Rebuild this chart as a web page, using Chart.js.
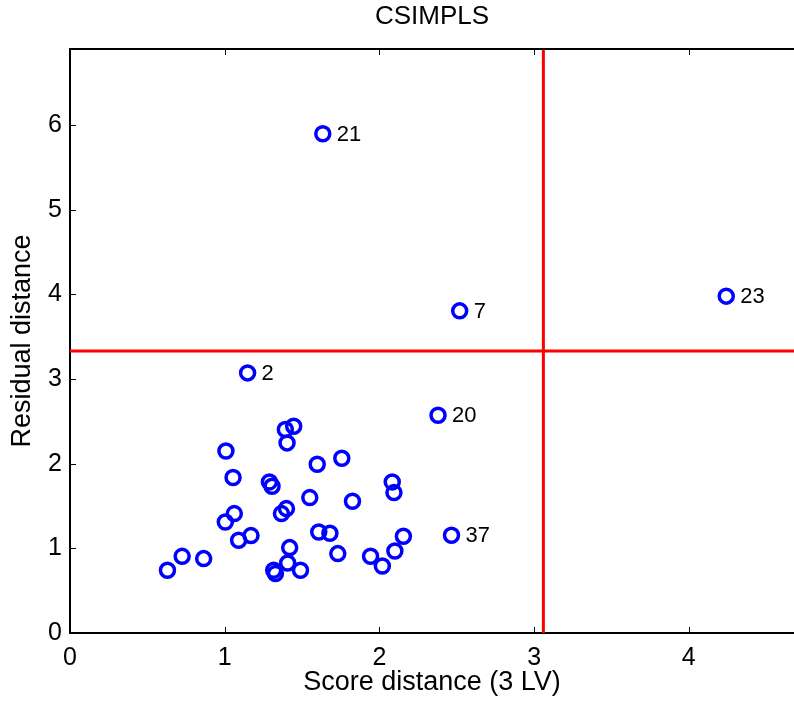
<!DOCTYPE html>
<html>
<head>
<meta charset="utf-8">
<script src="https://cdn.jsdelivr.net/npm/chart.js@4.4.0/dist/chart.umd.min.js"></script>
<style>
  html, body { margin: 0; padding: 0; background: #fff; }
  #wrap { width: 794px; height: 706px; }
</style>
</head>
<body>
<div id="wrap"><canvas id="diagChart"></canvas></div>
<script>
// score distance / residual distance per observation
const scoreDist = [0.63, 0.725, 0.864, 1.004, 1.062, 1.09, 1.17, 1.008, 1.054, 1.289,
    1.306, 1.317, 1.328, 1.367, 1.399, 1.392, 1.446, 1.403, 1.407, 1.42,
    1.49, 1.55, 1.598, 1.608, 1.68, 1.731, 1.757, 1.826, 1.943, 2.019,
    2.1, 2.155, 2.083, 2.094, 2.466, 2.379, 1.148, 2.519, 1.634, 4.242];
const residDist = [0.741, 0.906, 0.879, 1.312, 1.411, 1.096, 1.151, 2.151, 1.837, 1.785,
    1.734, 0.741, 0.702, 1.411, 1.47, 2.404, 2.443, 2.246, 0.827, 1.009,
    0.741, 1.6, 1.994, 1.194, 1.178, 0.938, 2.065, 1.557, 0.907, 0.792,
    0.969, 1.143, 1.785, 1.659, 1.155, 2.573, 3.073, 3.806, 5.898, 3.98];
const pointNames = ['', '', '', '', '', '', '', '', '', '',
    '', '', '', '', '', '', '', '', '', '',
    '', '', '', '', '', '', '', '', '', '',
    '', '', '', '', '37', '20', '2', '7', '21', '23'];

const sdCutoff = 3.06;
const odCutoff = 3.333;
const xTicks = [0, 1, 2, 3, 4];
const yTicks = [0, 1, 2, 3, 4, 5, 6];
const xMax = 4.68;
const yMax = 6.9;

const FONT = 'Liberation Sans, Arial, Helvetica, sans-serif';

const points = scoreDist.map((x, i) => ({ x: x, y: residDist[i] }));

// labels next to flagged points + inward ticks + top box line
const extras = {
    id: 'extras',
    afterDatasetsDraw(chart) {
        const { ctx } = chart;
        const meta = chart.getDatasetMeta(2);
        ctx.save();
        ctx.fillStyle = '#000';
        ctx.font = '22px ' + FONT;
        ctx.textBaseline = 'middle';
        ctx.textAlign = 'left';
        meta.data.forEach((pt, i) => {
            if (pointNames[i]) ctx.fillText(pointNames[i], pt.x + 14, pt.y + 1);
        });
        ctx.restore();
    },
    afterDraw(chart) {
        const { ctx, chartArea, scales } = chart;
        ctx.save();
        ctx.strokeStyle = '#000';
        ctx.lineWidth = 2;
        ctx.beginPath();
        ctx.moveTo(chartArea.left, chartArea.top);
        ctx.lineTo(chartArea.right, chartArea.top);
        ctx.stroke();
        ctx.lineWidth = 1;
        ctx.beginPath();
        xTicks.forEach(v => {
            const px = Math.round(scales.x.getPixelForValue(v)) + 0.5;
            ctx.moveTo(px, chartArea.bottom);
            ctx.lineTo(px, chartArea.bottom - 6);
            ctx.moveTo(px, chartArea.top);
            ctx.lineTo(px, chartArea.top + 6);
        });
        yTicks.forEach(v => {
            const py = Math.round(scales.y.getPixelForValue(v)) + 0.5;
            ctx.moveTo(chartArea.left, py);
            ctx.lineTo(chartArea.left + 6, py);
        });
        ctx.stroke();
        ctx.restore();
    }
};

const ctx = document.getElementById('diagChart').getContext('2d');
const diagChart = new Chart(ctx, {
    type: 'scatter',
    data: {
        datasets: [
            {
                // vertical cutoff
                type: 'line',
                data: [{ x: sdCutoff, y: 0 }, { x: sdCutoff, y: yMax }],
                borderColor: '#ff0000',
                borderWidth: 3,
                pointRadius: 0,
                fill: false,
            },
            {
                // horizontal cutoff
                type: 'line',
                data: [{ x: 0, y: odCutoff }, { x: xMax, y: odCutoff }],
                borderColor: '#ff0000',
                borderWidth: 3,
                pointRadius: 0,
                fill: false,
            },
            {
                data: points,
                pointStyle: 'circle',
                pointRadius: 7,
                pointHoverRadius: 7,
                borderColor: '#0000ff',
                backgroundColor: 'rgba(0,0,0,0)',
                pointBorderWidth: 3.5,
            },
        ],
    },
    options: {
        responsive: true,
        maintainAspectRatio: false,
        animation: false,
        layout: { padding: 0, autoPadding: false },
        plugins: {
            legend: { display: false },
            tooltip: { enabled: false },
            title: {
                display: true,
                fullSize: false,
                text: 'CSIMPLS',
                color: '#000',
                font: { family: FONT, size: 26, weight: 'normal' },
                padding: { top: 1, bottom: 16.8 },
            },
        },
        scales: {
            x: {
                type: 'linear',
                min: 0,
                max: xMax,
                afterFit: s => { s.height = 73; s.paddingLeft = 0; s.paddingRight = 0; },
                border: { color: '#000', width: 2 },
                grid: { display: false, drawTicks: false },
                ticks: {
                    stepSize: 1,
                    includeBounds: false,
                    color: '#000',
                    padding: 10,
                    font: { family: FONT, size: 25 },
                },
                title: {
                    display: true,
                    text: 'Score distance (3 LV)',
                    color: '#000',
                    font: { family: FONT, size: 27 },
                    padding: { top: 0, bottom: 6.8 },
                },
            },
            y: {
                type: 'linear',
                min: 0,
                max: yMax,
                afterFit: s => { s.width = 70; },
                border: { color: '#000', width: 2 },
                grid: { display: false, drawTicks: false },
                ticks: {
                    stepSize: 1,
                    includeBounds: false,
                    color: '#000',
                    padding: 8,
                    font: { family: FONT, size: 25 },
                },
                title: {
                    display: true,
                    text: 'Residual distance',
                    color: '#000',
                    font: { family: FONT, size: 27 },
                    padding: { top: 6.8, bottom: 0 },
                },
            },
        },
    },
    plugins: [extras],
});
</script>
</body>
</html>
